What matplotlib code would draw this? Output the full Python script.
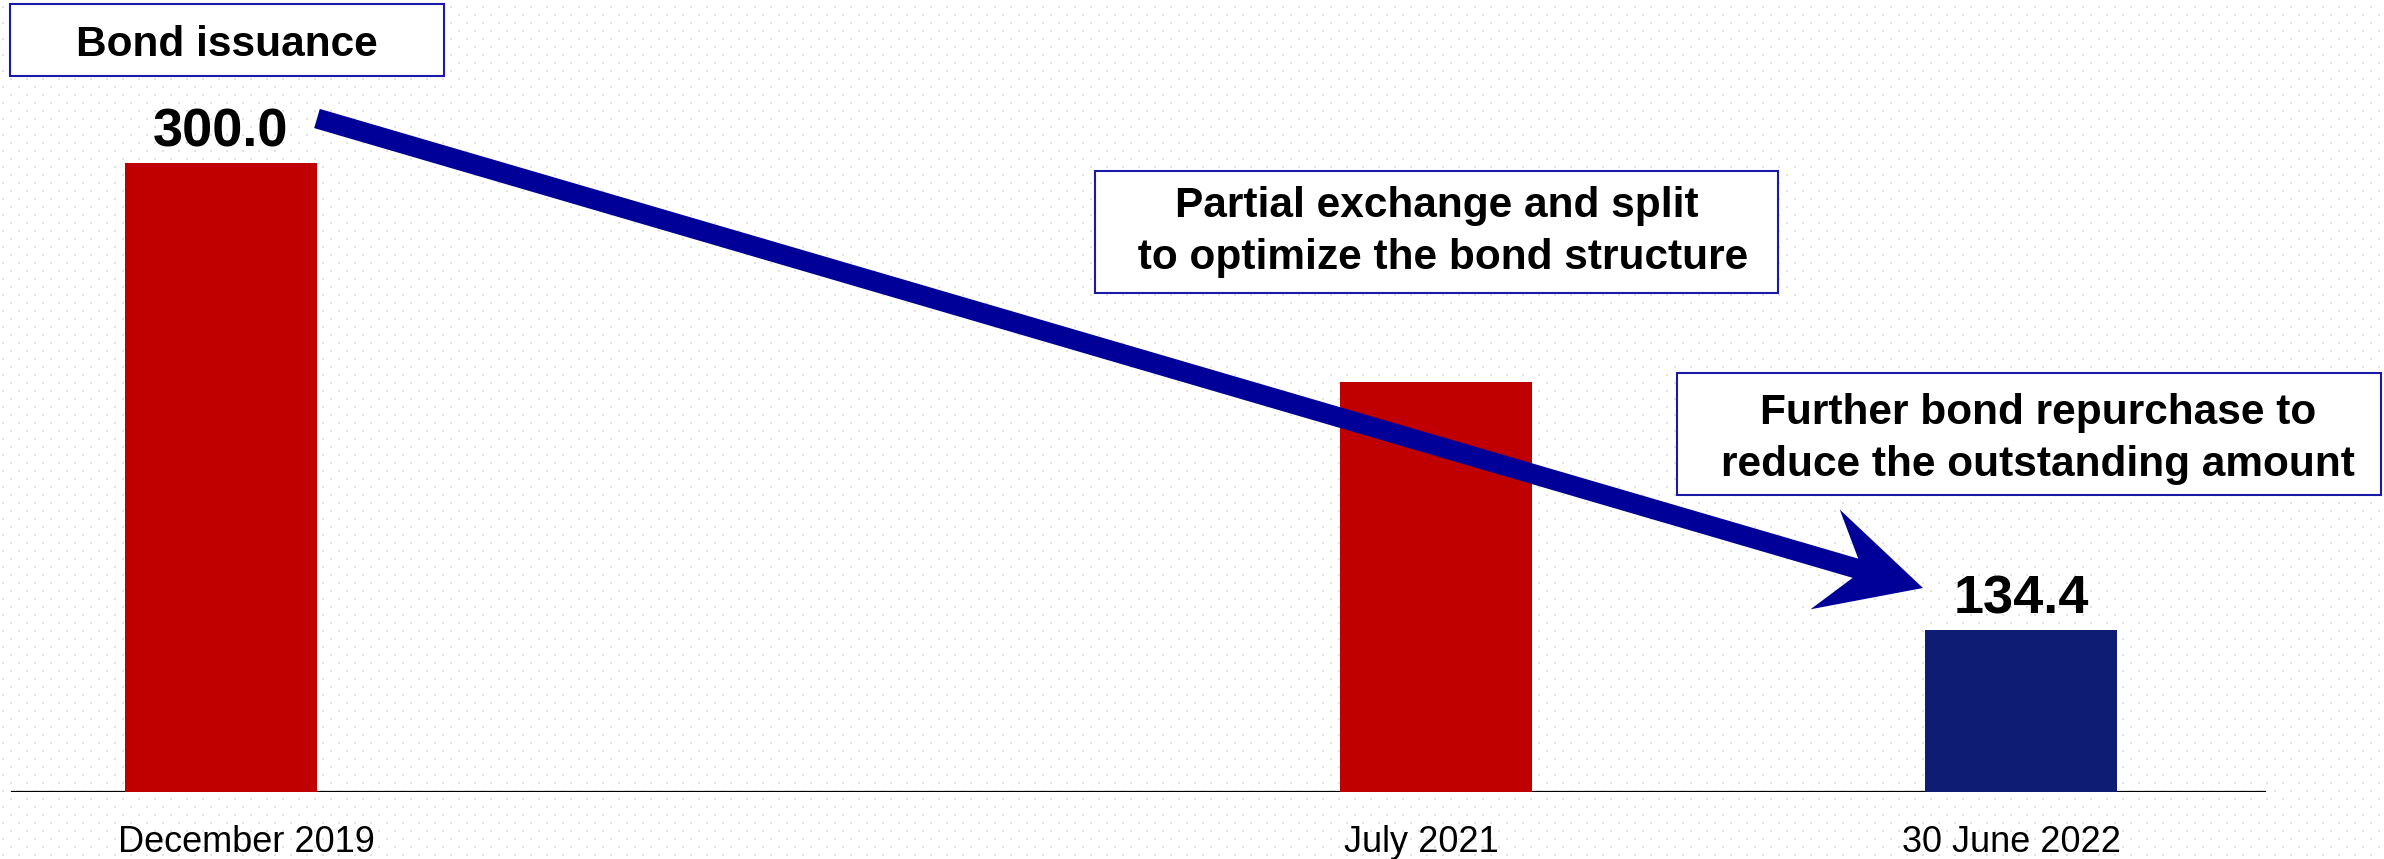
import matplotlib
matplotlib.use("Agg")
import matplotlib.pyplot as plt
from matplotlib.patches import FancyArrow, Rectangle
import numpy as np

plt.rcParams['font.family'] = ['Liberation Sans', 'DejaVu Sans']

# outstanding bond amount at each date
dates = ['December 2019', 'July 2021', '30 June 2022']
amounts = [300.0, 222.4, 134.4]
shown_labels = ['300.0', None, '134.4']
bar_colors = ['#c00000', '#c00000', '#0e1c74']

# notes placed above the bars
notes = ['Bond issuance',
         'Partial exchange and split\n to optimize the bond structure',
         'Further bond repurchase to\nreduce the outstanding amount']

W, H = 2384, 859
bar_x = [221, 1436, 2021]
tick_x = [246, 1421, 2011]
bar_w = 192
y_floor = 77.0
px_per_unit = 629 / (amounts[0] - y_floor)

fig = plt.figure(figsize=(W / 100, H / 100), dpi=100)
fig.patch.set_facecolor('white')

# faint staggered dot pattern behind everything
bg = fig.add_axes([0, 0, 1, 1], zorder=0)
bg.set_xlim(0, W)
bg.set_ylim(H, 0)
bg.axis('off')
xs, ys = [], []
for row, yy in enumerate(np.arange(6.7, H, 8)):
    start = 2.7 if row % 2 == 0 else 10.7
    for xx in np.arange(start, W, 16):
        xs.append(xx)
        ys.append(yy)
bg.scatter(xs, ys, s=2.2, marker='s', color='#e2e2e2', linewidths=0)

# main bar axes, baseline 792 px from top
base_frac = (H - 792) / H
ax = fig.add_axes([0, base_frac, 1, 1 - base_frac], zorder=1)
ax.patch.set_alpha(0)
ax.set_xlim(0, W)
ax.set_ylim(y_floor, y_floor + 792 / px_per_unit)
ax.axhline(y_floor, xmin=12 / W, xmax=2265 / W, color='black', lw=1.6, zorder=1)
ax.bar(bar_x, amounts, width=bar_w, color=bar_colors, zorder=2)
for x, v, lab in zip(bar_x, amounts, shown_labels):
    if lab:
        ax.annotate(lab, xy=(x, v), xytext=(0, 12), textcoords='offset points',
                    ha='center', va='baseline', fontsize=39, fontweight='bold')
for s in ax.spines.values():
    s.set_visible(False)
ax.set_yticks([])
ax.set_xticks(tick_x, dates, fontsize=26)
ax.tick_params(axis='x', length=0, pad=24)

# overlay in pixel units for the arrow and note boxes
ov = fig.add_axes([0, 0, 1, 1], zorder=2)
ov.set_xlim(0, W)
ov.set_ylim(H, 0)
ov.axis('off')

ov.add_patch(FancyArrow(317, 118.5, 1606, 469.5, width=20, head_width=104,
                        head_length=102, overhang=0.31, length_includes_head=True,
                        color='#000099', lw=0))

boxes = [(10, 4, 434, 72), (1095, 171, 683, 122), (1677, 373, 704, 122)]
text_xy = [(227, 45), (1437, 232), (2038, 439)]
for (bx, by, bw, bh), (tx, ty), note in zip(boxes, text_xy, notes):
    ov.add_patch(Rectangle((bx, by), bw, bh, facecolor='white',
                           edgecolor='#1a1aa6', lw=1.5))
    ov.text(tx, ty, note, ha='center', va='center', fontsize=30.5,
            fontweight='bold', linespacing=1.38)

fig.savefig('out.png', dpi=100, facecolor='white')
